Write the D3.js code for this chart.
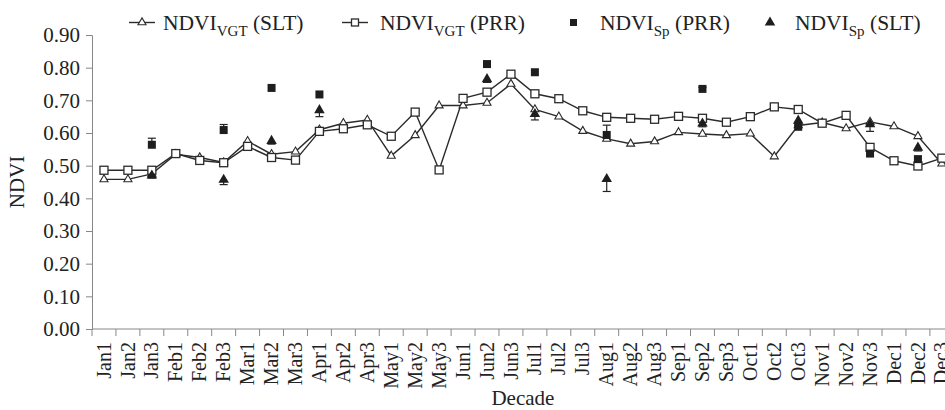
<!DOCTYPE html>
<html>
  <head>
    <title>NDVI decades</title>
    <meta charset="UTF-8" />
    <script src="https://d3js.org/d3.v7.min.js"></script>
    <style>
        body { margin: 0; background: #fff; }
        svg text { font-family: "Liberation Serif", "Times New Roman", "DejaVu Serif", serif !important; fill: #222; }
        .series { fill: none; stroke: #2b2b2b; stroke-width: 1.4; }
        .axis path, .axis line { stroke: #888; }
    </style>
  </head>
  <body>
    <script>
        // decades of the year
        var decades = ["Jan1","Jan2","Jan3","Feb1","Feb2","Feb3","Mar1","Mar2","Mar3",
            "Apr1","Apr2","Apr3","May1","May2","May3","Jun1","Jun2","Jun3",
            "Jul1","Jul2","Jul3","Aug1","Aug2","Aug3","Sep1","Sep2","Sep3",
            "Oct1","Oct2","Oct3","Nov1","Nov2","Nov3","Dec1","Dec2","Dec3"];

        // NDVI VGT, SLT site (open triangles)
        var vgtSLT = [0.458,0.458,0.475,0.535,0.525,0.510,0.575,0.535,0.543,
            0.610,0.630,0.640,0.530,0.593,0.684,0.684,0.692,0.750,
            0.672,0.650,0.606,0.582,0.567,0.574,0.602,0.597,0.593,
            0.598,0.528,0.623,0.632,0.614,0.634,0.620,0.590,0.506];

        // NDVI VGT, PRR site (open squares)
        var vgtPRR = [0.486,0.486,0.486,0.537,0.516,0.509,0.559,0.525,0.517,
            0.605,0.613,0.625,0.590,0.664,0.487,0.706,0.725,0.780,
            0.720,0.705,0.668,0.648,0.645,0.642,0.651,0.645,0.633,
            0.650,0.680,0.672,0.630,0.654,0.556,0.515,0.499,0.523];

        // NDVI Sp points (only some decades)
        var spDecades = ["Jan3","Feb3","Mar2","Apr1","Jun2","Jul1","Aug1","Sep2","Oct3","Nov3","Dec2"];
        var spPRR    = [0.564,0.609,0.738,0.718,0.811,0.786,0.594,0.735,0.619,0.537,0.520];
        var spPRRerr = [0.020,0.017,0,    0,    0,    0,    0.030,0.005,0.010,0.005,0.008];
        var spSLT    = [0.470,0.457,0.576,0.670,0.765,0.658,0.459,0.629,0.638,0.627,0.555];
        var spSLTerr = [0.008,0.015,0.010,0.020,0.010,0.018,0.038,0.010,0.015,0.022,0.010];

        var yTicks = [0,0.1,0.2,0.3,0.4,0.5,0.6,0.7,0.8,0.9];

        var width = 945, height = 410;
        var margin = { left: 92, top: 35, bottom: 81 };
        var bandW = 23.94;
        var serif = '"Liberation Serif", "Times New Roman", serif';

        var svg = d3.select("body").append("svg")
            .attr("width", width)
            .attr("height", height)
            .attr("font-family", serif);

        var x = d3.scaleBand()
            .domain(decades)
            .range([margin.left, margin.left + bandW * decades.length]);

        var y = d3.scaleLinear()
            .domain([0, 0.9])
            .range([height - margin.bottom, margin.top]);

        var cx = d => x(d) + x.bandwidth() / 2;

        // y axis
        var gy = svg.append("g")
            .attr("class", "axis")
            .attr("transform", "translate(" + margin.left + ",0)")
            .call(d3.axisLeft(y).tickValues(yTicks).tickFormat(d3.format(".2f")).tickSize(6).tickPadding(6));
        gy.attr("font-family", serif).attr("font-size", 21);
        gy.selectAll("text").attr("fill", "#222");

        // x axis: line + ticks at band boundaries
        var y0 = y(0);
        var gx = svg.append("g").attr("class", "axis");
        gx.append("line")
            .attr("x1", x.range()[0]).attr("x2", x.range()[1])
            .attr("y1", y0).attr("y2", y0);
        gx.selectAll(".bt")
            .data(decades.concat(["end"]))
            .enter().append("line")
            .attr("x1", (d, i) => i < decades.length ? x(d) : x.range()[1])
            .attr("x2", (d, i) => i < decades.length ? x(d) : x.range()[1])
            .attr("y1", y0).attr("y2", y0 + 7);
        gx.selectAll(".xl")
            .data(decades)
            .enter().append("text")
            .attr("transform", d => "translate(" + cx(d) + "," + (y0 + 13) + ") rotate(-90)")
            .attr("dy", "0.33em")
            .attr("text-anchor", "end")
            .attr("font-size", 20)
            .text(d => d);

        // axis titles
        svg.append("text")
            .attr("x", x.range()[0] + bandW * 18)
            .attr("y", 405)
            .attr("text-anchor", "middle")
            .attr("font-size", 21)
            .text("Decade");
        svg.append("text")
            .attr("transform", "translate(24," + ((y(0) + y(0.9)) / 2) + ") rotate(-90)")
            .attr("text-anchor", "middle")
            .attr("font-size", 21)
            .text("NDVI");

        // lines
        var line = d3.line().x((d, i) => cx(decades[i])).y(d => y(d));
        svg.append("path").datum(vgtSLT).attr("class", "series").attr("d", line);
        svg.append("path").datum(vgtPRR).attr("class", "series").attr("d", line);

        var triOpen = d3.symbol().type(d3.symbolTriangle).size(28);
        var triFill = d3.symbol().type(d3.symbolTriangle).size(48);

        svg.selectAll(".tri")
            .data(vgtSLT)
            .enter().append("path")
            .attr("d", triOpen)
            .attr("transform", (d, i) => "translate(" + cx(decades[i]) + "," + y(d) + ")")
            .attr("fill", "#fff").attr("stroke", "#2b2b2b").attr("stroke-width", 1.1);

        svg.selectAll(".sq")
            .data(vgtPRR)
            .enter().append("rect")
            .attr("x", (d, i) => cx(decades[i]) - 4)
            .attr("y", d => y(d) - 4)
            .attr("width", 8).attr("height", 8)
            .attr("fill", "#fff").attr("stroke", "#2b2b2b").attr("stroke-width", 1.3);

        // error bars: PRR upward, SLT downward
        var eb = svg.append("g").attr("stroke", "#222").attr("stroke-width", 1.2);
        spDecades.forEach(function(d, i) {
            if (spPRRerr[i] > 0) {
                var top = y(spPRR[i] + spPRRerr[i]);
                eb.append("line").attr("x1", cx(d)).attr("x2", cx(d)).attr("y1", y(spPRR[i])).attr("y2", top);
                eb.append("line").attr("x1", cx(d) - 4).attr("x2", cx(d) + 4).attr("y1", top).attr("y2", top);
            }
            if (spSLTerr[i] > 0) {
                var bot = y(spSLT[i] - spSLTerr[i]);
                eb.append("line").attr("x1", cx(d)).attr("x2", cx(d)).attr("y1", y(spSLT[i])).attr("y2", bot);
                eb.append("line").attr("x1", cx(d) - 4).attr("x2", cx(d) + 4).attr("y1", bot).attr("y2", bot);
            }
        });

        svg.selectAll(".sqf")
            .data(spPRR)
            .enter().append("rect")
            .attr("x", (d, i) => cx(spDecades[i]) - 4)
            .attr("y", d => y(d) - 4)
            .attr("width", 8).attr("height", 8)
            .attr("fill", "#1e1e1e");

        svg.selectAll(".trf")
            .data(spSLT)
            .enter().append("path")
            .attr("d", triFill)
            .attr("transform", (d, i) => "translate(" + cx(spDecades[i]) + "," + y(d) + ")")
            .attr("fill", "#1e1e1e");

        // legend
        var legY = 22.5;
        var lg = svg.append("g");
        function legText(xp, site) {
            var t = lg.append("text").attr("x", xp).attr("y", legY + 7).attr("font-size", 21.5);
            t.append("tspan").text("NDVI");
            t.append("tspan").attr("dy", 6.5).attr("font-size", 15).text(site[0]);
            t.append("tspan").attr("dy", -6.5).text(" (" + site[1] + ")");
        }
        lg.append("line").attr("x1", 129).attr("x2", 155).attr("y1", legY).attr("y2", legY).attr("stroke", "#2b2b2b").attr("stroke-width", 1.4);
        lg.append("path").attr("d", triOpen).attr("transform", "translate(142," + legY + ")")
            .attr("fill", "#fff").attr("stroke", "#2b2b2b").attr("stroke-width", 1.1);
        legText(163, ["VGT", "SLT"]);

        lg.append("line").attr("x1", 342).attr("x2", 368).attr("y1", legY).attr("y2", legY).attr("stroke", "#2b2b2b").attr("stroke-width", 1.4);
        lg.append("rect").attr("x", 351.5).attr("y", legY - 3.5).attr("width", 7).attr("height", 7)
            .attr("fill", "#fff").attr("stroke", "#2b2b2b").attr("stroke-width", 1.3);
        legText(380, ["VGT", "PRR"]);

        lg.append("rect").attr("x", 570).attr("y", legY - 3.5).attr("width", 7).attr("height", 7).attr("fill", "#1e1e1e");
        legText(600, ["Sp", "PRR"]);

        lg.append("path").attr("d", triFill).attr("transform", "translate(770," + legY + ")").attr("fill", "#1e1e1e");
        legText(795, ["Sp", "SLT"]);
    </script>
  </body>
</html>
